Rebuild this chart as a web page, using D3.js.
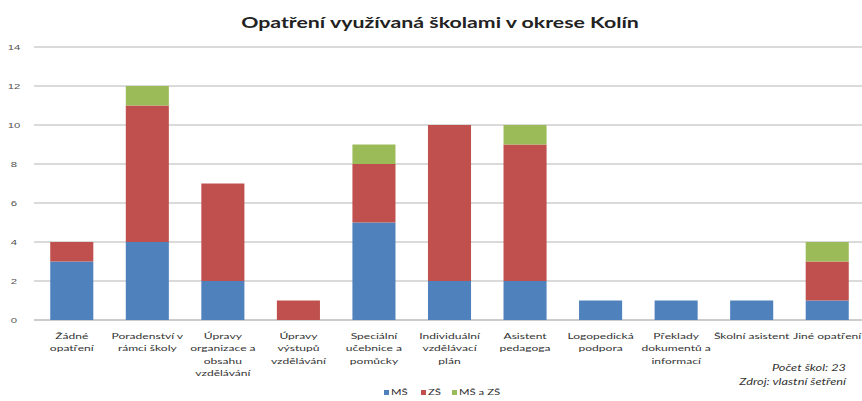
<!DOCTYPE html>
<html>
<head>
<meta charset="utf-8">
<script src="https://cdn.jsdelivr.net/npm/d3@7"></script>
<style>
  body { margin: 0; background: #fff; }
  svg { font-family: Lato, "Liberation Sans", Arial, sans-serif; }
</style>
</head>
<body>
<script>
var width = 862,
    height = 401,
    stretch = 1.42; // the source picture is wider than tall, text looks stretched

// categories (label lines)
var categories = [
    ["Žádné", "opatření"],
    ["Poradenství v", "rámci školy"],
    ["Úpravy", "organizace a", "obsahu", "vzdělávání"],
    ["Úpravy", "výstupů", "vzdělávání"],
    ["Speciální", "učebnice a", "pomůcky"],
    ["Individuální", "vzdělávací", "plán"],
    ["Asistent", "pedagoga"],
    ["Logopedická", "podpora"],
    ["Překlady", "dokumentů a", "informací"],
    ["Školní asistent"],
    ["Jiné opatření"]
];

// series values
var seriesNames = ["MŠ", "ZŠ", "MŠ a ZŠ"];
var msValues   = [3, 4, 2, 0, 5, 2, 2, 1, 1, 1, 1];
var zsValues   = [1, 7, 5, 1, 3, 8, 7, 0, 0, 0, 2];
var bothValues = [0, 1, 0, 0, 1, 0, 1, 0, 0, 0, 1];
var colors = ["#4f81bd", "#c0504d", "#9bbb59"];

var yTicks = [0, 2, 4, 6, 8, 10, 12, 14];

var rows = categories.map(function (c, i) {
    return { key: i, ms: msValues[i], zs: zsValues[i], both: bothValues[i] };
});

var svg = d3.select("body").append("svg")
    .attr("width", width)
    .attr("height", height);

// text stretched horizontally around its anchor point
function wideText(parent, px, py) {
    return parent.append("g")
        .attr("transform", "translate(" + px + "," + py + ") scale(" + stretch + ",1)")
        .append("text");
}

//Scales
var x = d3.scaleBand()
    .domain(d3.range(categories.length))
    .range([34, 865])
    .paddingInner(0.43)
    .paddingOuter(0.215);

var y = d3.scaleLinear()
    .domain([0, 14])
    .range([320, 47]);

//Title
wideText(svg, 440, 28)
    .attr("text-anchor", "middle")
    .style("font-size", "15px")
    .style("font-weight", "bold")
    .style("fill", "#222")
    .text("Opatření využívaná školami v okrese Kolín");

//Gridlines
svg.append("g")
    .selectAll("line")
    .data(yTicks)
    .enter().append("line")
    .attr("x1", 34)
    .attr("x2", 862)
    .attr("y1", function (d) { return y(d); })
    .attr("y2", function (d) { return y(d); })
    .style("stroke", function (d) { return d == 0 ? "#999" : "#b5b5b5"; })
    .style("stroke-width", 1);

//Y axis labels
var yAxis = d3.axisLeft(y).tickValues(yTicks).tickSize(0).tickPadding(0);
var yg = svg.append("g")
    .attr("transform", "translate(14,0)")
    .call(yAxis);
yg.select(".domain").remove();
yg.selectAll("text")
    .style("font-size", "8px")
    .style("fill", "#555")
    .attr("text-anchor", "middle")
    .attr("dy", "0.32em")
    .attr("transform", "scale(" + stretch + ",1)");

//Stacked bars
var stack = d3.stack().keys(["ms", "zs", "both"]);
var layers = stack(rows);

svg.append("g")
    .selectAll("g")
    .data(layers)
    .enter().append("g")
    .style("fill", function (d, i) { return colors[i]; })
    .selectAll("rect")
    .data(function (d) { return d; })
    .enter().append("rect")
    .attr("x", function (d) { return x(d.data.key); })
    .attr("width", x.bandwidth())
    .attr("y", function (d) { return y(d[1]); })
    .attr("height", function (d) { return y(d[0]) - y(d[1]); });

//Category labels
var xg = svg.append("g");
categories.forEach(function (lines, i) {
    var t = wideText(xg, x(i) + x.bandwidth() / 2, 339)
        .attr("text-anchor", "middle")
        .style("font-size", "8.5px")
        .style("fill", "#333");
    lines.forEach(function (l, j) {
        t.append("tspan")
            .attr("x", 0)
            .attr("dy", j == 0 ? 0 : 12.5)
            .text(l);
    });
});

//Note
wideText(svg, 846, 371)
    .attr("text-anchor", "end")
    .style("font-size", "9px")
    .style("font-style", "italic")
    .style("fill", "#333")
    .text("Počet škol: 23");
wideText(svg, 846, 385)
    .attr("text-anchor", "end")
    .style("font-size", "9px")
    .style("font-style", "italic")
    .style("fill", "#333")
    .text("Zdroj: vlastní šetření");

//Legend
var legendX = [384, 421, 452];
var legend = svg.append("g")
    .selectAll("g")
    .data(seriesNames)
    .enter().append("g")
    .attr("transform", function (d, i) { return "translate(" + legendX[i] + ",395)"; });
legend.append("rect")
    .attr("width", 5)
    .attr("height", 5)
    .attr("y", -5)
    .style("fill", function (d, i) { return colors[i]; });
legend.append("g")
    .attr("transform", "translate(7,0) scale(" + stretch + ",1)")
    .append("text")
    .style("font-size", "8px")
    .style("fill", "#333")
    .text(function (d) { return d; });
</script>
</body>
</html>
